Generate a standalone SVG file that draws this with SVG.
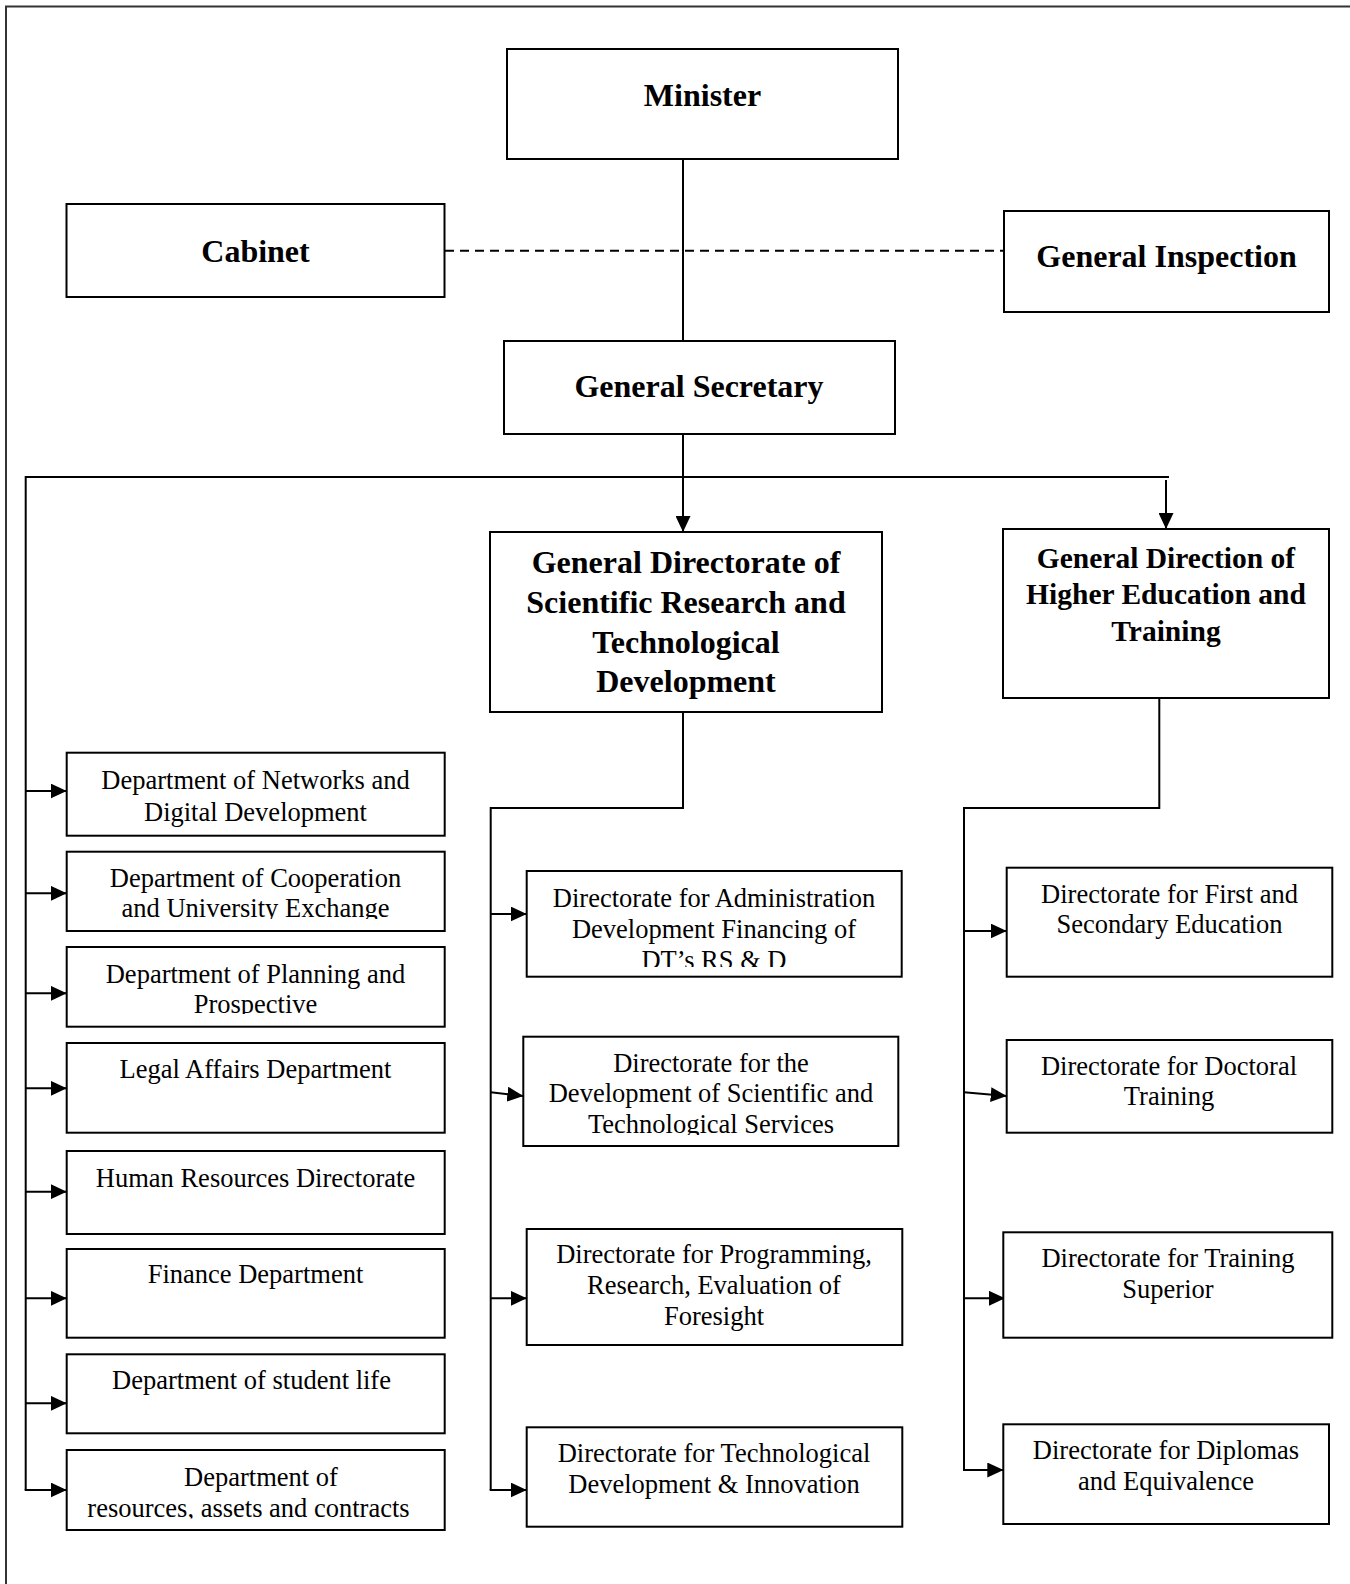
<svg xmlns="http://www.w3.org/2000/svg" width="1350" height="1584" viewBox="0 0 1350 1584">
<style>
.box{fill:#fff;stroke:#000;stroke-width:2}
.t{font-family:"Liberation Serif","Times New Roman",serif;font-size:26.5px;fill:#000;text-anchor:middle}
.b{font-family:"Liberation Serif","Times New Roman",serif;font-size:32px;font-weight:bold;fill:#000;text-anchor:middle}
.c{fill:none;stroke:#000;stroke-width:2}
.a{fill:none;stroke:#000;stroke-width:2;marker-end:url(#ar)}
</style>
<defs>
<marker id="ar" markerUnits="userSpaceOnUse" markerWidth="16" markerHeight="15" refX="16" refY="7.5" orient="auto">
<path d="M0,0 L16,7.5 L0,15 z" fill="#000"/>
</marker>
<clipPath id="cl2"><rect x="60" y="840" width="400" height="79"/></clipPath>
<clipPath id="cl3"><rect x="60" y="940" width="400" height="74"/></clipPath>
<clipPath id="cl8"><rect x="60" y="1440" width="400" height="78.5"/></clipPath>
<clipPath id="clA"><rect x="520" y="860" width="390" height="107"/></clipPath>
<clipPath id="clB"><rect x="520" y="1030" width="390" height="105"/></clipPath>
</defs>
<rect width="1350" height="1584" fill="#fff"/>
<path d="M6,1584 V6.5 H1350" fill="none" stroke="#333" stroke-width="2"/>

<g id="connectors">
<line class="c" x1="683" y1="159" x2="683" y2="341"/>
<line class="c" x1="445" y1="250.7" x2="1004" y2="250.7" stroke-dasharray="9,6"/>
<line class="c" x1="683" y1="434" x2="683" y2="477"/>
<line class="c" x1="25.7" y1="477" x2="1169" y2="477"/>
<line class="a" x1="683" y1="477" x2="683" y2="532"/>
<line class="a" x1="1166" y1="480" x2="1166" y2="529"/>
<line class="c" x1="25.7" y1="476" x2="25.7" y2="1490"/>
<line class="a" x1="25.7" y1="791" x2="66.7" y2="791"/>
<line class="a" x1="25.7" y1="893.3" x2="66.7" y2="893.3"/>
<line class="a" x1="25.7" y1="993.3" x2="66.7" y2="993.3"/>
<line class="a" x1="25.7" y1="1088.3" x2="66.7" y2="1088.3"/>
<line class="a" x1="25.7" y1="1191.7" x2="66.7" y2="1191.7"/>
<line class="a" x1="25.7" y1="1298.3" x2="66.7" y2="1298.3"/>
<line class="a" x1="25.7" y1="1403.3" x2="66.7" y2="1403.3"/>
<line class="a" x1="24.7" y1="1490" x2="66.7" y2="1490"/>
<path class="c" d="M683,702 V808 H490.7 V1490"/>
<line class="a" x1="490.7" y1="914" x2="526.7" y2="914"/>
<line class="a" x1="490.7" y1="1092.3" x2="523.3" y2="1096"/>
<line class="a" x1="490.7" y1="1298.3" x2="526.7" y2="1298.3"/>
<line class="a" x1="489.7" y1="1490" x2="526.7" y2="1490"/>
<path class="c" d="M1159.3,698 V808 H964 V1470"/>
<line class="a" x1="964" y1="931" x2="1006.7" y2="931"/>
<line class="a" x1="964" y1="1092.3" x2="1006.7" y2="1096"/>
<line class="a" x1="964" y1="1298.3" x2="1005" y2="1298.3"/>
<line class="a" x1="963" y1="1470" x2="1003.3" y2="1470"/>
</g>

<g id="minister"><rect class="box" x="507" y="49" width="391" height="110"/><text class="b" x="702.5" y="106">Minister</text></g>
<g id="cabinet"><rect class="box" x="66.5" y="204" width="378" height="93"/><text class="b" x="255.5" y="261.7">Cabinet</text></g>
<g id="general-inspection"><rect class="box" x="1004" y="211" width="325" height="101"/><text class="b" x="1166.5" y="266.7">General Inspection</text></g>
<g id="general-secretary"><rect class="box" x="504" y="341" width="391" height="93"/><text class="b" x="699" y="396.7">General Secretary</text></g>

<g id="gdsr"><rect class="box" x="490" y="532" width="392" height="180"/>
<text class="b"><tspan x="686" y="572.7">General Directorate of</tspan><tspan x="686" y="613.3">Scientific Research and</tspan><tspan x="686" y="652.7">Technological</tspan><tspan x="686" y="691.7">Development</tspan></text></g>
<g id="gdhe"><rect class="box" x="1003" y="529" width="326" height="169"/>
<text class="b" style="font-size:29.5px"><tspan x="1166" y="568.3">General Direction of</tspan><tspan x="1166" y="604.3">Higher Education and</tspan><tspan x="1166" y="640.7">Training</tspan></text></g>

<g id="dep-networks"><rect class="box" x="66.7" y="752.7" width="378" height="83"/>
<text class="t"><tspan x="255.5" y="789.3">Department of Networks and</tspan><tspan x="255.5" y="821">Digital Development</tspan></text></g>
<g id="dep-cooperation"><rect class="box" x="66.7" y="851.7" width="378" height="79.3"/>
<text class="t" clip-path="url(#cl2)"><tspan x="255.5" y="886.7">Department of Cooperation</tspan><tspan x="255.5" y="917.3">and University Exchange</tspan></text></g>
<g id="dep-planning"><rect class="box" x="66.7" y="947" width="378" height="79.7"/>
<text class="t" clip-path="url(#cl3)"><tspan x="255.5" y="982.7">Department of Planning and</tspan><tspan x="255.5" y="1012.7">Prospective</tspan></text></g>
<g id="dep-legal"><rect class="box" x="66.7" y="1043" width="378" height="89.7"/>
<text class="t" x="255.5" y="1078.3">Legal Affairs Department</text></g>
<g id="dep-hr"><rect class="box" x="66.7" y="1151" width="378" height="83"/>
<text class="t" x="255.5" y="1186.7">Human Resources Directorate</text></g>
<g id="dep-finance"><rect class="box" x="66.7" y="1249" width="378" height="88.7"/>
<text class="t" x="255.5" y="1283.3">Finance Department</text></g>
<g id="dep-student"><rect class="box" x="66.7" y="1354.3" width="378" height="79"/>
<text class="t" x="251.5" y="1389.3">Department of student life</text></g>
<g id="dep-resources"><rect class="box" x="66.7" y="1450" width="378" height="80"/>
<text class="t" clip-path="url(#cl8)"><tspan x="261" y="1485.7">Department of</tspan><tspan x="248.5" y="1517.3">resources, assets and contracts</tspan></text></g>

<g id="dir-administration"><rect class="box" x="526.7" y="871" width="375" height="105.7"/>
<text class="t" clip-path="url(#clA)"><tspan x="714" y="906.7">Directorate for Administration</tspan><tspan x="714" y="937.7">Development Financing of</tspan><tspan x="714" y="968.5">DT’s RS &amp; D</tspan></text></g>
<g id="dir-services"><rect class="box" x="523.3" y="1036.7" width="375" height="109.3"/>
<text class="t" clip-path="url(#clB)"><tspan x="711" y="1071.7">Directorate for the</tspan><tspan x="711" y="1102.3">Development of Scientific and</tspan><tspan x="711" y="1133.3">Technological Services</tspan></text></g>
<g id="dir-programming"><rect class="box" x="526.7" y="1229" width="375.6" height="116"/>
<text class="t"><tspan x="714" y="1263.3">Directorate for Programming,</tspan><tspan x="714" y="1294">Research, Evaluation of</tspan><tspan x="714" y="1325">Foresight</tspan></text></g>
<g id="dir-innovation"><rect class="box" x="526.7" y="1427.3" width="375.6" height="99.4"/>
<text class="t"><tspan x="714" y="1462.3">Directorate for Technological</tspan><tspan x="714" y="1493.3">Development &amp; Innovation</tspan></text></g>

<g id="dir-first-secondary"><rect class="box" x="1006.7" y="867.7" width="325.6" height="109"/>
<text class="t"><tspan x="1169.5" y="903.3">Directorate for First and</tspan><tspan x="1169.5" y="933.3">Secondary Education</tspan></text></g>
<g id="dir-doctoral"><rect class="box" x="1006.7" y="1040" width="325.6" height="92.7"/>
<text class="t"><tspan x="1169" y="1075">Directorate for Doctoral</tspan><tspan x="1169" y="1105">Training</tspan></text></g>
<g id="dir-training-superior"><rect class="box" x="1003.3" y="1232.3" width="329" height="105.4"/>
<text class="t"><tspan x="1168" y="1266.7">Directorate for Training</tspan><tspan x="1168" y="1298.3">Superior</tspan></text></g>
<g id="dir-diplomas"><rect class="box" x="1003.3" y="1424.3" width="325.7" height="99.7"/>
<text class="t"><tspan x="1166" y="1459">Directorate for Diplomas</tspan><tspan x="1166" y="1490">and Equivalence</tspan></text></g>
</svg>
